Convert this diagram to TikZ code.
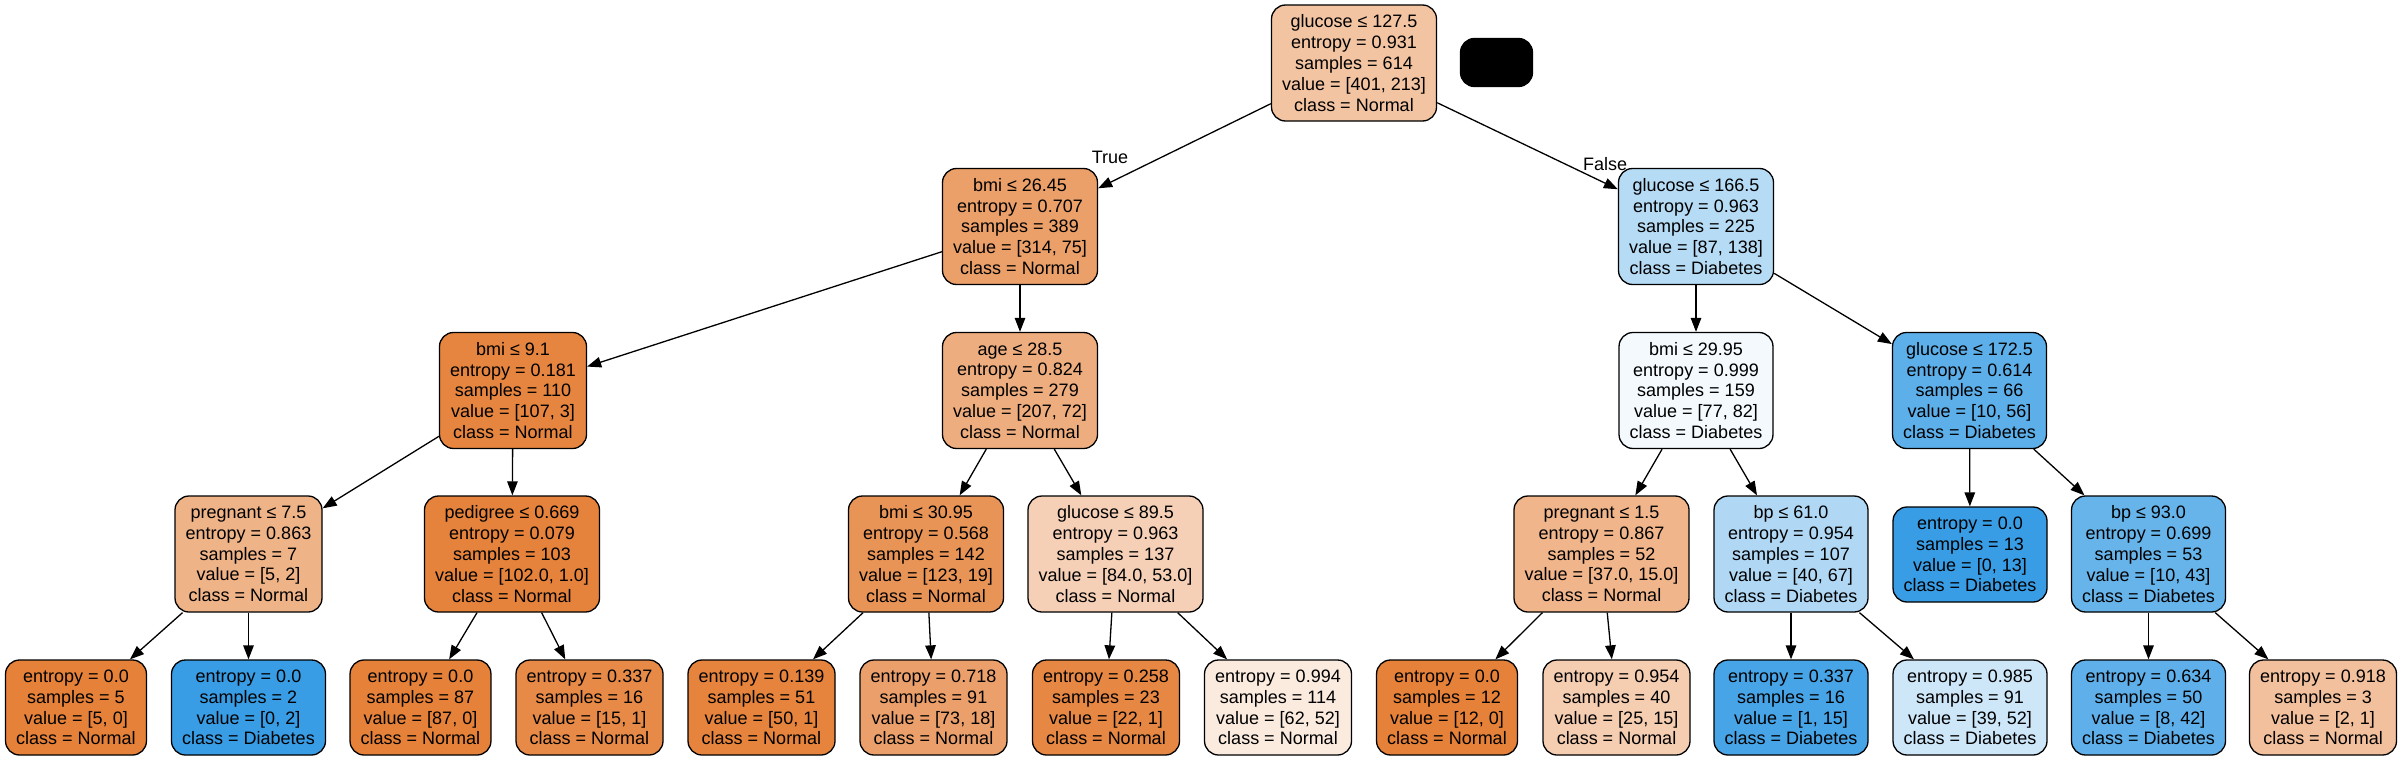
\documentclass[tikz,border=0pt]{standalone}
\usepackage{fontspec}
\setmainfont{Liberation Sans}
\usetikzlibrary{arrows.meta}
\definecolor{nrm}{RGB}{229,129,57}
\definecolor{dia}{RGB}{57,157,229}
\tikzset{
  tn/.style={draw=black, line width=1.3pt, rounded corners=14pt, align=center,
    font=\fontsize{18}{20.8}\selectfont, inner xsep=10.7pt, inner ysep=0pt},
  five/.style={tn, minimum height=116pt},
  four/.style={tn, minimum height=95pt},
  lbl/.style={font=\fontsize{18}{20.8}\selectfont, inner sep=0pt},
  edge/.style={line width=1.3pt, -{Triangle[length=14pt,width=10.5pt]}, shorten >=0pt}
}
\begin{document}
\begin{tikzpicture}[x=1pt,y=-1pt]
\useasboundingbox[fill=white] (0,0) rectangle (2402,760);
% level 0
\node[five,fill=nrm!47] (n0) at (1354,63) {glucose ≤ 127.5\\entropy = 0.931\\samples = 614\\value = [401, 213]\\class = Normal};
\node[draw=black, fill=black, line width=1.3pt, rounded corners=14pt, minimum width=72pt, minimum height=48pt, inner sep=0pt] (blk) at (1496.5,62.5) {};
% level 1
\node[five,fill=nrm!76] (n1) at (1020,226.5) {bmi ≤ 26.45\\entropy = 0.707\\samples = 389\\value = [314, 75]\\class = Normal};
\node[five,fill=dia!37] (n2) at (1696,226.5) {glucose ≤ 166.5\\entropy = 0.963\\samples = 225\\value = [87, 138]\\class = Diabetes};
% level 2
\node[five,fill=nrm!97] (n3) at (513,390.5) {bmi ≤ 9.1\\entropy = 0.181\\samples = 110\\value = [107, 3]\\class = Normal};
\node[five,fill=nrm!65] (n4) at (1020,390.5) {age ≤ 28.5\\entropy = 0.824\\samples = 279\\value = [207, 72]\\class = Normal};
\node[five,fill=dia!6] (n5) at (1696,390.5) {bmi ≤ 29.95\\entropy = 0.999\\samples = 159\\value = [77, 82]\\class = Diabetes};
\node[five,fill=dia!82] (n6) at (1969.5,390.5) {glucose ≤ 172.5\\entropy = 0.614\\samples = 66\\value = [10, 56]\\class = Diabetes};
% level 3
\node[five,fill=nrm!60] (n7) at (248.5,554) {pregnant ≤ 7.5\\entropy = 0.863\\samples = 7\\value = [5, 2]\\class = Normal};
\node[five,fill=nrm!99] (n8) at (512,554) {pedigree ≤ 0.669\\entropy = 0.079\\samples = 103\\value = [102.0, 1.0]\\class = Normal};
\node[five,fill=nrm!85] (n9) at (926,554) {bmi ≤ 30.95\\entropy = 0.568\\samples = 142\\value = [123, 19]\\class = Normal};
\node[five,fill=nrm!37] (n10) at (1115.5,554) {glucose ≤ 89.5\\entropy = 0.963\\samples = 137\\value = [84.0, 53.0]\\class = Normal};
\node[five,fill=nrm!59] (n11) at (1601.5,554) {pregnant ≤ 1.5\\entropy = 0.867\\samples = 52\\value = [37.0, 15.0]\\class = Normal};
\node[five,fill=dia!40] (n12) at (1791,554) {bp ≤ 61.0\\entropy = 0.954\\samples = 107\\value = [40, 67]\\class = Diabetes};
\node[four,fill=dia] (n13) at (1970,554.5) {entropy = 0.0\\samples = 13\\value = [0, 13]\\class = Diabetes};
\node[five,fill=dia!77] (n14) at (2148.5,554) {bp ≤ 93.0\\entropy = 0.699\\samples = 53\\value = [10, 43]\\class = Diabetes};
% level 4 (leaves)
\node[four,fill=nrm] (l1) at (76,707.5) {entropy = 0.0\\samples = 5\\value = [5, 0]\\class = Normal};
\node[four,fill=dia] (l2) at (248.5,707.5) {entropy = 0.0\\samples = 2\\value = [0, 2]\\class = Diabetes};
\node[four,fill=nrm] (l3) at (420.5,707.5) {entropy = 0.0\\samples = 87\\value = [87, 0]\\class = Normal};
\node[four,fill=nrm!93] (l4) at (589.5,707.5) {entropy = 0.337\\samples = 16\\value = [15, 1]\\class = Normal};
\node[four,fill=nrm!98] (l5) at (761.5,707.5) {entropy = 0.139\\samples = 51\\value = [50, 1]\\class = Normal};
\node[four,fill=nrm!75] (l6) at (933.5,707.5) {entropy = 0.718\\samples = 91\\value = [73, 18]\\class = Normal};
\node[four,fill=nrm!95] (l7) at (1106,707.5) {entropy = 0.258\\samples = 23\\value = [22, 1]\\class = Normal};
\node[four,fill=nrm!16] (l8) at (1278,707.5) {entropy = 0.994\\samples = 114\\value = [62, 52]\\class = Normal};
\node[four,fill=nrm] (l9) at (1447,707.5) {entropy = 0.0\\samples = 12\\value = [12, 0]\\class = Normal};
\node[four,fill=nrm!40] (l10) at (1616.5,707.5) {entropy = 0.954\\samples = 40\\value = [25, 15]\\class = Normal};
\node[four,fill=dia!93] (l11) at (1791,707.5) {entropy = 0.337\\samples = 16\\value = [1, 15]\\class = Diabetes};
\node[four,fill=dia!25] (l12) at (1970,707.5) {entropy = 0.985\\samples = 91\\value = [39, 52]\\class = Diabetes};
\node[four,fill=dia!81] (l13) at (2148.5,707.5) {entropy = 0.634\\samples = 50\\value = [8, 42]\\class = Diabetes};
\node[four,fill=nrm!50] (l14) at (2323,707.5) {entropy = 0.918\\samples = 3\\value = [2, 1]\\class = Normal};
% edge labels
\node[lbl] (lt) at (1110,157) {True};
\node[lbl] (lf) at (1605,164) {False};
% edges
\draw[edge] (n0) -- (n1);
\draw[edge] (n0) -- (n2);
\draw[edge] (n1) -- (n3);
\draw[edge] (n1) -- (n4);
\draw[edge] (n2) -- (n5);
\draw[edge] (n2) -- (n6);
\draw[edge] (n3) -- (n7);
\draw[edge] (n3) -- (n8);
\draw[edge] (n4) -- (n9);
\draw[edge] (n4) -- (n10);
\draw[edge] (n5) -- (n11);
\draw[edge] (n5) -- (n12);
\draw[edge] (n6) -- (n13);
\draw[edge] (n6) -- (n14);
\draw[edge] (n7) -- (l1);
\draw[edge] (n7) -- (l2);
\draw[edge] (n8) -- (l3);
\draw[edge] (n8) -- (l4);
\draw[edge] (n9) -- (l5);
\draw[edge] (n9) -- (l6);
\draw[edge] (n10) -- (l7);
\draw[edge] (n10) -- (l8);
\draw[edge] (n11) -- (l9);
\draw[edge] (n11) -- (l10);
\draw[edge] (n12) -- (l11);
\draw[edge] (n12) -- (l12);
\draw[edge] (n14) -- (l13);
\draw[edge] (n14) -- (l14);
\end{tikzpicture}
\end{document}
